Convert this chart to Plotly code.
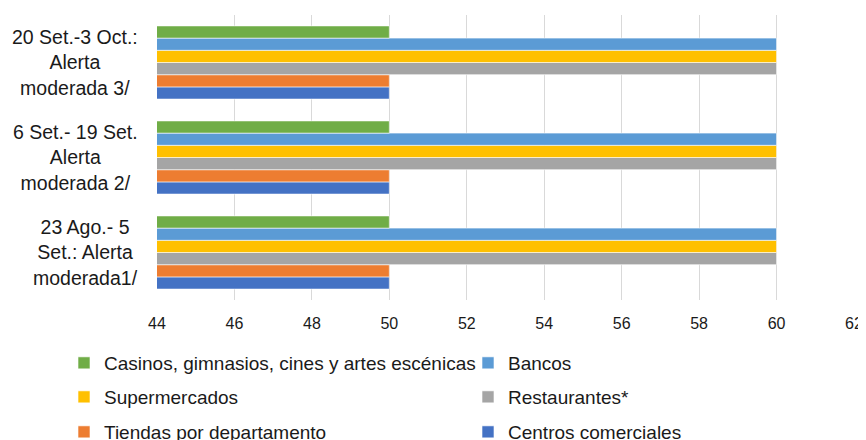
import plotly.graph_objects as go

categories = [
    "23 Ago.- 5<br>Set.: Alerta<br>moderada1/",
    "6 Set.- 19 Set.<br>Alerta<br>moderada 2/",
    "20 Set.-3 Oct.:<br>Alerta<br>moderada 3/",
]

series_names = [
    "Casinos, gimnasios, cines y artes escénicas",
    "Bancos",
    "Supermercados",
    "Restaurantes*",
    "Tiendas por departamento",
    "Centros comerciales",
]
casinos = [50, 50, 50]
bancos = [60, 60, 60]
supermercados = [60, 60, 60]
restaurantes = [60, 60, 60]
tiendas = [50, 50, 50]
centros = [50, 50, 50]
series_values = [casinos, bancos, supermercados, restaurantes, tiendas, centros]
colors = ["#70AD47", "#5B9BD5", "#FFC000", "#A5A5A5", "#ED7D31", "#4472C4"]

x_ticks = [44, 46, 48, 50, 52, 54, 56, 58, 60, 62]

FONT = "Liberation Sans, Arial, sans-serif"
TXT = "#1a1a1a"

# page body adds an 8px offset; figure is sized to fit the 866x440 window
W, H = 858, 432

# legend slots: (column left px, row centre px) in figure coordinates, 2 columns x 3 rows
legend_cols = [56, 460]
legend_rows_y = [355, 389, 424]
legend_ids = ["legend", "legend2", "legend3", "legend4", "legend5", "legend6"]

fig = go.Figure()
# add in reverse so the first series sits at the top of each group
for i in reversed(range(len(series_names))):
    fig.add_trace(go.Bar(
        y=categories, x=series_values[i], name=series_names[i], orientation="h",
        legend=legend_ids[i],
        marker=dict(color=colors[i], line=dict(color="white", width=0.6)),
    ))

for cat in categories:
    fig.add_annotation(
        x=0, xref="paper", y=cat, yref="y", xanchor="right", yanchor="middle",
        xshift=-17, text=cat, showarrow=False, align="center",
        font=dict(family=FONT, size=19.5, color=TXT),
    )

legends = {}
for i, lid in enumerate(legend_ids):
    col, row = i % 2, i // 2
    legends[lid] = dict(
        orientation="h", xref="container", yref="container",
        x=legend_cols[col] / W, xanchor="left",
        y=1 - legend_rows_y[row] / H, yanchor="middle",
        itemwidth=30, bgcolor="rgba(0,0,0,0)",
        font=dict(family=FONT, size=19, color=TXT),
    )

fig.update_layout(
    width=W, height=H,
    margin=dict(l=149, r=12, t=7, b=140),
    paper_bgcolor="white", plot_bgcolor="white",
    barmode="group", bargap=0.23, bargroupgap=0,
    font=dict(family=FONT, size=16, color=TXT),
    showlegend=True,
    xaxis=dict(
        range=[44, 62], tickvals=x_ticks, ticktext=[str(v) for v in x_ticks],
        showgrid=True, gridcolor="#D9D9D9", gridwidth=1,
        zeroline=False, showline=False, ticks="", ticklabelstandoff=12,
        automargin=False,
        tickfont=dict(family=FONT, size=16, color=TXT),
    ),
    yaxis=dict(
        type="category", range=[-0.5, 2.5], showticklabels=False,
        showgrid=False, zeroline=False, showline=False, ticks="",
        automargin=False,
    ),
    **legends,
)

fig.write_html("out.html")
